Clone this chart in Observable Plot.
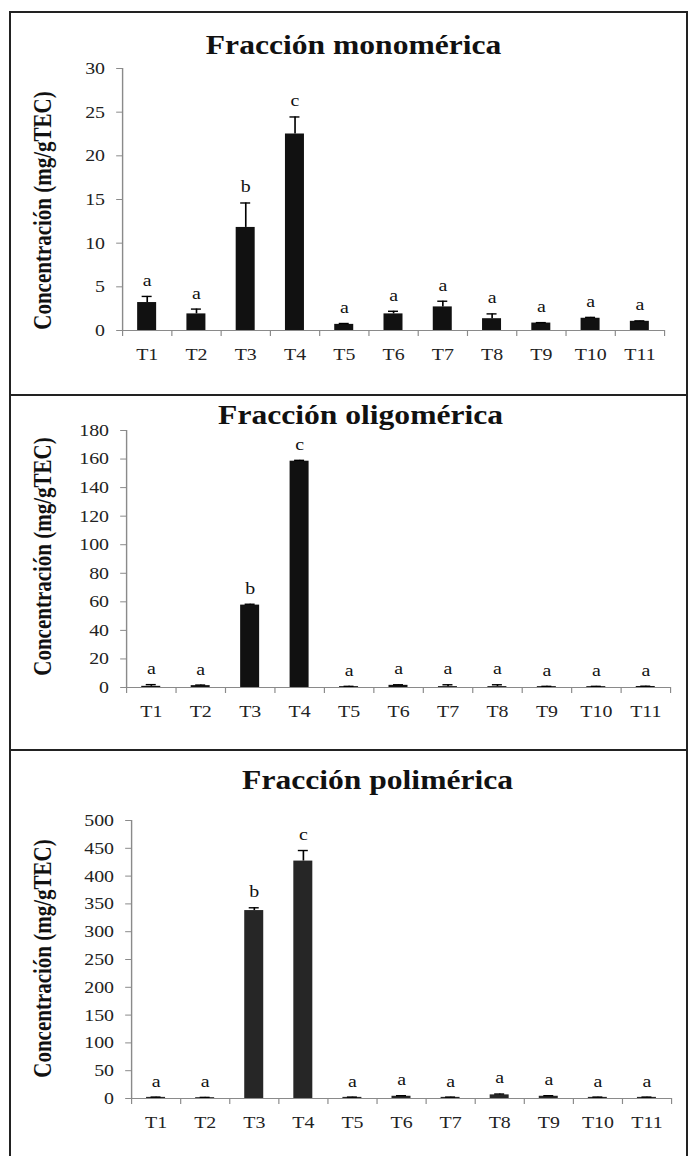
<!DOCTYPE html>
<html>
<head>
<meta charset="utf-8">
<script src="https://cdn.jsdelivr.net/npm/d3@7"></script>
<script src="https://cdn.jsdelivr.net/npm/@observablehq/plot@0.6"></script>
<style>
html, body { margin: 0; padding: 0; background: #fff; }
body { position: relative; width: 688px; height: 1156px; overflow: hidden; }
.frame { position: absolute; left: 9px; top: 11px; width: 675px; height: 1160px; border: 2px solid #222; border-bottom: none; }
.divider { position: absolute; left: 9px; width: 679px; height: 2px; background: #222; }
</style>
</head>
<body>
<div class="frame"></div>
<div class="divider" style="top:394px"></div>
<div class="divider" style="top:749px"></div>
<script>
// ---- data ----
const categories = ["T1", "T2", "T3", "T4", "T5", "T6", "T7", "T8", "T9", "T10", "T11"];

const monoValues  = [3.2, 1.9, 11.8, 22.5, 0.7, 1.9, 2.7, 1.35, 0.85, 1.4, 1.05];
const monoErrors  = [0.7, 0.55, 2.8, 1.95, 0.1, 0.3, 0.65, 0.55, 0.05, 0.1, 0.05];
const monoLetters = ["a", "a", "b", "c", "a", "a", "a", "a", "a", "a", "a"];
const monoTicks   = [0, 5, 10, 15, 20, 25, 30];

const oligoValues  = [0.8, 1.3, 57.7, 158.5, 0.6, 1.5, 0.6, 0.6, 0.6, 0.6, 0.7];
const oligoErrors  = [1.2, 0.4, 0.6, 0.6, 0.2, 0.4, 1.3, 1.3, 0.2, 0.2, 0.2];
const oligoLetters = ["a", "a", "b", "c", "a", "a", "a", "a", "a", "a", "a"];
const oligoTicks   = [0, 20, 40, 60, 80, 100, 120, 140, 160, 180];

const polyValues  = [2, 1.5, 338, 427, 2, 4, 2, 6.5, 4, 2, 2];
const polyErrors  = [0.5, 0.5, 5, 19, 0.5, 1, 0.5, 1.5, 1, 0.5, 0.5];
const polyLetters = ["a", "a", "b", "c", "a", "a", "a", "a", "a", "a", "a"];
const polyTicks   = [0, 50, 100, 150, 200, 250, 300, 350, 400, 450, 500];

const titles = ["Fracción monomérica", "Fracción oligomérica", "Fracción polimérica"];
const yTitle = "Concentración (mg/gTEC)";

// ---- drawing ----
const k = 1.17;            // horizontal stretch of the reference picture
const FONT = "'Liberation Serif', 'Times New Roman', serif";

function panel(o) {
  const W = 688 / k;
  const n = categories.length;
  const data = categories.map((c, j) => ({i: j + 1, cat: c, v: o.values[j], e: o.errors[j], letter: o.letters[j]}));
  const ml = o.left / k, mr = (688 - o.right) / k;
  const step = (W - ml - mr) / n;
  const barW = 19 / k;
  const inset = (step - barW) / 2;
  const capHalf = 5 / k;
  const boundaries = d3.range(0.5, n + 1, 1);
  const frameCenterX = (ml + W - mr) / 2;
  const frameMidY = (o.frameTop + o.axisY) / 2;
  const yMax = o.ticks[o.ticks.length - 1];

  const svg = Plot.plot({
    width: W,
    height: o.height,
    marginTop: o.frameTop - o.top,
    marginBottom: o.top + o.height - o.axisY,
    marginLeft: ml,
    marginRight: mr,
    x: {domain: [0.5, n + 0.5], axis: null},
    y: {domain: [0, yMax], axis: null},
    style: {fontFamily: FONT, fontSize: "17px", background: "transparent", overflow: "visible", maxWidth: "none", color: "#111"},
    marks: [
      Plot.rectY(data, {x1: d => d.i - 0.5, x2: d => d.i + 0.5, y: "v", insetLeft: inset, insetRight: inset, fill: o.fill}),
      Plot.ruleX(data, {x: "i", y1: "v", y2: d => d.v + d.e, stroke: "#000", strokeWidth: 1.4}),
      Plot.ruleY(data, {y: d => d.v + d.e, x1: "i", x2: "i", insetLeft: -capHalf, insetRight: -capHalf, stroke: "#000", strokeWidth: 1.4}),
      Plot.ruleY([0], {stroke: "#8a8a8a", strokeWidth: 1.2}),
      Plot.ruleX([0.5], {stroke: "#8a8a8a", strokeWidth: 1.2}),
      Plot.axisY({ticks: o.ticks, tickSize: 5, tickPadding: 10, stroke: "#8a8a8a", fill: "#222", fontSize: 17, label: null, fontVariant: "normal"}),
      Plot.axisX({ticks: boundaries, tickSize: 6, tickFormat: () => "", stroke: "#8a8a8a", label: null}),
      Plot.axisX({ticks: d3.range(1, n + 1), tickSize: 0, tickPadding: 17, tickFormat: i => categories[i - 1], fill: "#222", fontSize: 17, label: null, fontVariant: "normal"}),
      Plot.text(data, {x: "i", y: d => d.v + d.e, text: "letter", dy: -16, fontSize: 17, fill: "#111"}),
      Plot.text([o.title], {frameAnchor: "top", dx: o.titleX / k - frameCenterX, dy: o.titleY - o.frameTop, textAnchor: "middle", lineAnchor: "middle", fontSize: 27, fontWeight: "bold", fill: "#111"}),
      Plot.text([yTitle], {frameAnchor: "left", rotate: -90, dx: 43 / k - ml, dy: o.yTitleY - frameMidY, textAnchor: "middle", lineAnchor: "middle", fontSize: 21, fontWeight: "bold", fill: "#111"})
    ]
  });
  svg.style.position = "absolute";
  svg.style.left = "0px";
  svg.style.top = o.top + "px";
  svg.style.transformOrigin = "0 0";
  svg.style.transform = `scaleX(${k})`;
  document.body.appendChild(svg);
}

panel({title: titles[0], values: monoValues, errors: monoErrors, letters: monoLetters, ticks: monoTicks,
  top: 13, height: 381, frameTop: 68, axisY: 330, left: 122, right: 664, titleX: 353, titleY: 45, yTitleY: 210, fill: "#111"});
panel({title: titles[1], values: oligoValues, errors: oligoErrors, letters: oligoLetters, ticks: oligoTicks,
  top: 396, height: 353, frameTop: 430, axisY: 687, left: 126, right: 670, titleX: 360, titleY: 415, yTitleY: 556, fill: "#111"});
panel({title: titles[2], values: polyValues, errors: polyErrors, letters: polyLetters, ticks: polyTicks,
  top: 751, height: 405, frameTop: 820, axisY: 1098, left: 131, right: 671, titleX: 377, titleY: 780, yTitleY: 958, fill: "#262626"});
</script>
</body>
</html>
